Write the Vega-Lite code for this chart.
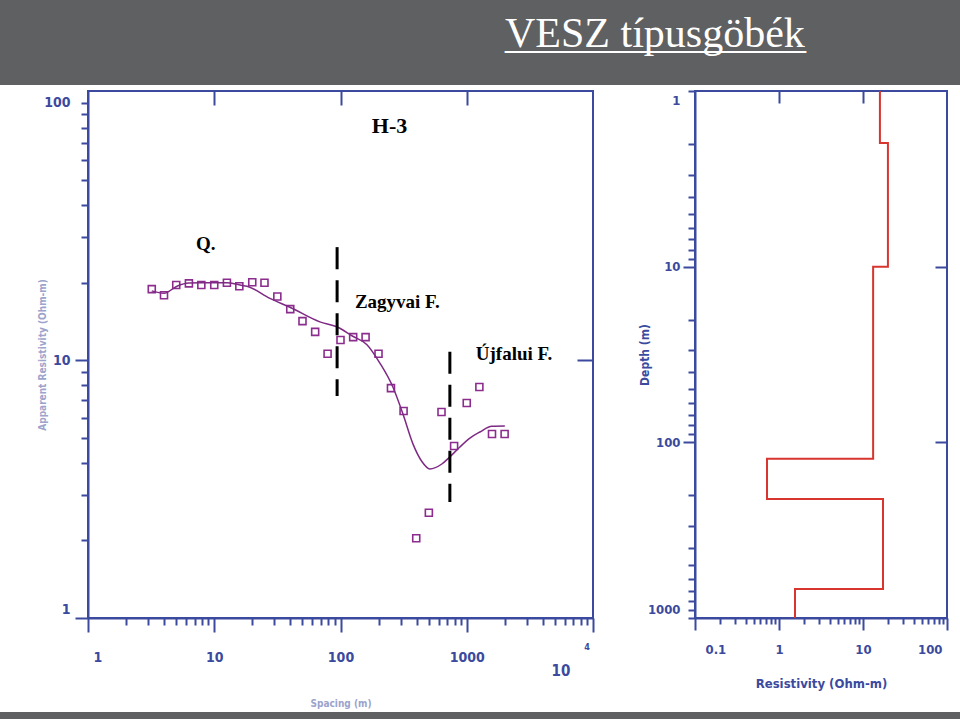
{
  "$schema": "https://vega.github.io/schema/vega-lite/v6.json",
  "padding": 0,
  "background": "#ffffff",
  "bounds": "flush",
  "align": "each",
  "columns": 4,
  "spacing": {"row": 6, "column": 0},
  "config": {"view": {"stroke": null}},
  "datasets": {
    "obs": [
      {"spacing": 3.2, "rho": 18.9}, {"spacing": 4.0, "rho": 17.9}, {"spacing": 5.0, "rho": 19.6},
      {"spacing": 6.3, "rho": 19.9}, {"spacing": 7.9, "rho": 19.6}, {"spacing": 10, "rho": 19.6},
      {"spacing": 12.6, "rho": 20.0}, {"spacing": 15.8, "rho": 19.4}, {"spacing": 20, "rho": 20.1},
      {"spacing": 25, "rho": 20.0}, {"spacing": 31.6, "rho": 17.7}, {"spacing": 40, "rho": 15.8},
      {"spacing": 50, "rho": 14.2}, {"spacing": 63, "rho": 12.9}, {"spacing": 79, "rho": 10.6},
      {"spacing": 100, "rho": 12.0}, {"spacing": 126, "rho": 12.3}, {"spacing": 158, "rho": 12.3},
      {"spacing": 200, "rho": 10.6}, {"spacing": 251, "rho": 7.8}, {"spacing": 316, "rho": 6.36},
      {"spacing": 398, "rho": 2.04}, {"spacing": 501, "rho": 2.56}, {"spacing": 631, "rho": 6.3},
      {"spacing": 794, "rho": 4.65}, {"spacing": 1000, "rho": 6.83}, {"spacing": 1259, "rho": 7.88},
      {"spacing": 1585, "rho": 5.18}, {"spacing": 1995, "rho": 5.18}
    ],
    "fit": [
      {"spacing": 3.2, "rho": 18.6}, {"spacing": 4.0, "rho": 18.2}, {"spacing": 5.07, "rho": 19.4},
      {"spacing": 6.3, "rho": 19.95}, {"spacing": 8.0, "rho": 20.0}, {"spacing": 10.1, "rho": 20.0},
      {"spacing": 12.6, "rho": 20.0}, {"spacing": 16.0, "rho": 19.6}, {"spacing": 18.2, "rho": 19.4},
      {"spacing": 27.6, "rho": 17.4}, {"spacing": 40.5, "rho": 16.0}, {"spacing": 68.7, "rho": 14.1},
      {"spacing": 93.6, "rho": 13.5}, {"spacing": 125, "rho": 12.4}, {"spacing": 162, "rho": 11.5},
      {"spacing": 205, "rho": 9.76}, {"spacing": 260, "rho": 7.88}, {"spacing": 312, "rho": 6.2},
      {"spacing": 374, "rho": 4.75}, {"spacing": 441, "rho": 4.05}, {"spacing": 510, "rho": 3.79},
      {"spacing": 635, "rho": 3.96}, {"spacing": 735, "rho": 4.22}, {"spacing": 882, "rho": 4.61},
      {"spacing": 1059, "rho": 4.99}, {"spacing": 1270, "rho": 5.27}, {"spacing": 1580, "rho": 5.55},
      {"spacing": 2003, "rho": 5.56}
    ],
    "cuts": [
      {"spacing": 94, "top": 27.5, "bottom": 7.27},
      {"spacing": 735, "top": 10.8, "bottom": 2.82}
    ],
    "names": [
      {"spacing": 7.16, "rho": 26.8, "t": "Q."},
      {"spacing": 130, "rho": 15.96, "t": "Zagyvai F."},
      {"spacing": 1180, "rho": 10.0, "t": "Újfalui F."}
    ],
    "station": [{"spacing": 177, "rho": 76.2, "t": "H-3"}],
    "pow": [{"spacing": 10000, "rho": 1, "base": "10", "exp": "4"}],
    "model": [
      {"r": 15.9, "d": 1, "i": 1}, {"r": 15.9, "d": 1.98, "i": 2}, {"r": 19.8, "d": 1.98, "i": 3},
      {"r": 19.8, "d": 10, "i": 4}, {"r": 13.2, "d": 10, "i": 5}, {"r": 13.2, "d": 124, "i": 6},
      {"r": 0.72, "d": 124, "i": 7}, {"r": 0.72, "d": 210, "i": 8}, {"r": 17.3, "d": 210, "i": 9},
      {"r": 17.3, "d": 683, "i": 10}, {"r": 1.55, "d": 683, "i": 11}, {"r": 1.55, "d": 1000, "i": 12}
    ]
  },
  "concat": [
    {"width": 88, "height": 85, "view": {"fill": "#5f6062", "stroke": null}, "data": {"values": []}, "mark": {"type": "point", "opacity": 0}},
    {"width": 505, "height": 85, "view": {"fill": "#5f6062", "stroke": null}, "data": {"values": []}, "mark": {"type": "point", "opacity": 0}},
    {"width": 102, "height": 85, "view": {"fill": "#5f6062", "stroke": null}, "data": {"values": []}, "mark": {"type": "point", "opacity": 0}},
    {
      "width": 265,
      "height": 85,
      "view": {"fill": "#5f6062", "stroke": null},
      "title": {
        "text": "VESZ típusgöbék",
        "subtitle": "______________",
        "anchor": "start",
        "frame": "group",
        "orient": "top",
        "offset": 0,
        "dx": -190,
        "dy": 58,
        "font": "Liberation Serif",
        "fontSize": 42,
        "fontWeight": "normal",
        "color": "#ffffff",
        "subtitleFont": "Liberation Serif",
        "subtitleFontSize": 43,
        "subtitleColor": "#ffffff",
        "subtitlePadding": -42
      },
      "data": {"values": []},
      "mark": {"type": "point", "opacity": 0}
    },
    {"width": 88, "height": 615, "view": {"stroke": null}, "data": {"values": []}, "mark": {"type": "point", "opacity": 0}},
    {
      "width": 505,
      "height": 527,
      "view": {"stroke": "#3b4a9e", "strokeWidth": 2},
      "resolve": {"axis": {"x": "independent", "y": "independent"}},
      "layer": [
        {
          "data": {"name": "obs"},
          "mark": {"type": "point", "shape": "square", "filled": false, "size": 49, "stroke": "#8b2c8e", "strokeWidth": 1.6, "opacity": 1},
          "encoding": {
            "x": {
              "field": "spacing", "type": "quantitative",
              "scale": {"type": "log", "domain": [1, 10000], "nice": false},
              "axis": {
                "orient": "bottom",
                "values": [1,2,3,4,5,6,7,8,9,10,20,30,40,50,60,70,80,90,100,200,300,400,500,600,700,800,900,1000,2000,3000,4000,5000,6000,7000,8000,9000,10000],
                "grid": false,
                "domainColor": "#3b4a9e", "domainWidth": 2,
                "tickColor": "#3b4a9e", "tickWidth": 2,
                "tickSize": {"condition": {"test": "indexof([1,10,100,1000,10000], datum.value) >= 0", "value": 14}, "value": 7},
                "labelExpr": "indexof([1,10,100,1000], datum.value) >= 0 ? '' + datum.value : ''",
                "labelFlush": false,
                "labelOverlap": false,
                "labelBound": false,
                "labelAlign": {"condition": {"test": "datum.value == 1", "value": "left"}, "value": "center"},
                "labelOffset": {"condition": {"test": "datum.value == 1", "value": 5}, "value": 0},
                "labelPadding": 18,
                "labelFont": "Liberation Sans Narrow, DejaVu Sans Condensed, sans-serif",
                "labelFontWeight": "bold",
                "labelFontSize": 14,
                "labelColor": "#3b4a9e",
                "title": "Spacing (m)",
                "titleFont": "Liberation Sans Narrow, DejaVu Sans Condensed, sans-serif",
                "titleFontWeight": "bold",
                "titleFontSize": 10,
                "titleColor": "#9ca3cc",
                "titlePadding": 34
              }
            },
            "y": {
              "field": "rho", "type": "quantitative",
              "scale": {"type": "log", "domain": [1, 111], "nice": false},
              "axis": {
                "orient": "left",
                "values": [1,2,3,4,5,6,7,8,9,10,20,30,40,50,60,70,80,90,100],
                "grid": false,
                "domainColor": "#3b4a9e", "domainWidth": 2,
                "tickColor": "#3b4a9e", "tickWidth": 2,
                "tickSize": {"condition": {"test": "datum.value == 10 || datum.value == 1", "value": 13}, "value": 7},
                "labelExpr": "indexof([1,10,100], datum.value) >= 0 ? '' + datum.value : ''",
                "labelFlush": false,
                "labelOverlap": false,
                "labelBound": false,
                "labelBaseline": {"condition": {"test": "datum.value == 1", "value": "bottom"}, "value": "middle"},
                "labelOffset": {"condition": {"test": "datum.value == 1", "value": -2}, "value": 0},
                "labelPadding": {"condition": {"test": "datum.value == 100", "value": 11}, "value": 5},
                "labelFont": "Liberation Sans Narrow, DejaVu Sans Condensed, sans-serif",
                "labelFontWeight": "bold",
                "labelFontSize": 14,
                "labelColor": "#3b4a9e",
                "title": "Apparent Resistivity (Ohm-m)",
                "titleFont": "Liberation Sans Narrow, DejaVu Sans Condensed, sans-serif",
                "titleFontWeight": "bold",
                "titleFontSize": 10,
                "titleColor": "#9ca3cc",
                "titlePadding": -4
              }
            }
          }
        },
        {
          "data": {"name": "fit"},
          "mark": {"type": "line", "color": "#7e2a84", "strokeWidth": 1.5, "interpolate": "monotone"},
          "encoding": {
            "x": {
              "field": "spacing", "type": "quantitative",
              "scale": {"type": "log", "domain": [1, 10000], "nice": false},
              "axis": {"orient": "top", "values": [10, 100, 1000], "labels": false, "domain": false, "grid": false, "tickSize": -14, "tickColor": "#3b4a9e", "tickWidth": 2, "title": null}
            },
            "y": {
              "field": "rho", "type": "quantitative",
              "scale": {"type": "log", "domain": [1, 111], "nice": false},
              "axis": {"orient": "right", "values": [10], "labels": false, "domain": false, "grid": false, "tickSize": -16, "tickColor": "#3b4a9e", "tickWidth": 2, "title": null}
            }
          }
        },
        {
          "data": {"name": "cuts"},
          "mark": {"type": "rule", "color": "#000000", "strokeWidth": 3, "strokeDash": [22, 11]},
          "encoding": {
            "x": {"field": "spacing", "type": "quantitative", "scale": {"type": "log", "domain": [1, 10000], "nice": false}, "axis": null},
            "y": {"field": "top", "type": "quantitative", "scale": {"type": "log", "domain": [1, 111], "nice": false}, "axis": null},
            "y2": {"field": "bottom"}
          }
        },
        {
          "data": {"name": "names"},
          "mark": {"type": "text", "align": "left", "baseline": "alphabetic", "font": "Liberation Serif", "fontWeight": "bold", "fontSize": 19, "color": "#000000"},
          "encoding": {
            "x": {"field": "spacing", "type": "quantitative", "scale": {"type": "log", "domain": [1, 10000], "nice": false}, "axis": null},
            "y": {"field": "rho", "type": "quantitative", "scale": {"type": "log", "domain": [1, 111], "nice": false}, "axis": null},
            "text": {"field": "t"}
          }
        },
        {
          "data": {"name": "station"},
          "mark": {"type": "text", "align": "left", "baseline": "alphabetic", "font": "Liberation Serif", "fontWeight": "bold", "fontSize": 22, "color": "#000000"},
          "encoding": {
            "x": {"field": "spacing", "type": "quantitative", "scale": {"type": "log", "domain": [1, 10000], "nice": false}, "axis": null},
            "y": {"field": "rho", "type": "quantitative", "scale": {"type": "log", "domain": [1, 111], "nice": false}, "axis": null},
            "text": {"field": "t"}
          }
        },
        {
          "data": {"name": "pow"},
          "mark": {"type": "text", "align": "center", "baseline": "middle", "dx": -32, "dy": 53, "font": "Liberation Sans Narrow, DejaVu Sans Condensed, sans-serif", "fontWeight": "bold", "fontSize": 15, "color": "#3b4a9e"},
          "encoding": {
            "x": {"field": "spacing", "type": "quantitative", "scale": {"type": "log", "domain": [1, 10000], "nice": false}, "axis": null},
            "y": {"field": "rho", "type": "quantitative", "scale": {"type": "log", "domain": [1, 111], "nice": false}, "axis": null},
            "text": {"field": "base"}
          }
        },
        {
          "data": {"name": "pow"},
          "mark": {"type": "text", "align": "center", "baseline": "middle", "dx": -6, "dy": 29, "font": "Liberation Sans Narrow, DejaVu Sans Condensed, sans-serif", "fontWeight": "bold", "fontSize": 9, "color": "#3b4a9e"},
          "encoding": {
            "x": {"field": "spacing", "type": "quantitative", "scale": {"type": "log", "domain": [1, 10000], "nice": false}, "axis": null},
            "y": {"field": "rho", "type": "quantitative", "scale": {"type": "log", "domain": [1, 111], "nice": false}, "axis": null},
            "text": {"field": "exp"}
          }
        }
      ]
    },
    {"width": 102, "height": 527, "view": {"stroke": null}, "data": {"values": []}, "mark": {"type": "point", "opacity": 0}},
    {
      "width": 252,
      "height": 527,
      "view": {"stroke": "#3b4a9e", "strokeWidth": 2},
      "data": {"name": "model"},
      "resolve": {"axis": {"x": "independent", "y": "independent"}},
      "layer": [
        {
          "mark": {"type": "line", "color": "#d8352f", "strokeWidth": 2},
          "encoding": {
            "x": {
              "field": "r", "type": "quantitative",
              "scale": {"type": "log", "domain": [0.1, 100], "nice": false},
              "axis": {
                "orient": "bottom",
                "values": [0.1,0.2,0.3,0.4,0.5,0.6,0.7,0.8,0.9,1,2,3,4,5,6,7,8,9,10,20,30,40,50,60,70,80,90,100],
                "grid": false,
                "domainColor": "#3b4a9e", "domainWidth": 2,
                "tickColor": "#3b4a9e", "tickWidth": 2,
                "tickSize": {"condition": {"test": "indexof([0.1,1,10,100], datum.value) >= 0", "value": 12}, "value": 6},
                "labelExpr": "indexof([0.1,1,10,100], datum.value) >= 0 ? '' + datum.value : ''",
                "labelFlush": false,
                "labelOverlap": false,
                "labelBound": false,
                "labelAlign": {"condition": [{"test": "datum.value == 0.1", "value": "left"}, {"test": "datum.value == 100", "value": "right"}], "value": "center"},
                "labelOffset": {"condition": [{"test": "datum.value == 0.1", "value": 10}, {"test": "datum.value == 100", "value": -5}], "value": 0},
                "labelPadding": 13,
                "labelFont": "Liberation Sans Narrow, DejaVu Sans Condensed, sans-serif",
                "labelFontWeight": "bold",
                "labelFontSize": 13,
                "labelColor": "#3b4a9e",
                "title": "Resistivity (Ohm-m)",
                "titleFont": "Liberation Sans Narrow, DejaVu Sans Condensed, sans-serif",
                "titleFontWeight": "bold",
                "titleFontSize": 13,
                "titleColor": "#3b4a9e",
                "titlePadding": 21
              }
            },
            "y": {
              "field": "d", "type": "quantitative",
              "scale": {"type": "log", "domain": [1, 1000], "nice": false, "reverse": true},
              "axis": {
                "orient": "left",
                "values": [1,2,3,4,5,6,7,8,9,10,20,30,40,50,60,70,80,90,100,200,300,400,500,600,700,800,900,1000],
                "grid": false,
                "domainColor": "#3b4a9e", "domainWidth": 2,
                "tickColor": "#3b4a9e", "tickWidth": 2,
                "tickSize": {"condition": {"test": "indexof([10,100], datum.value) >= 0", "value": 12}, "value": 7},
                "labelExpr": "indexof([1,10,100,1000], datum.value) >= 0 ? '' + datum.value : ''",
                "labelFlush": false,
                "labelOverlap": false,
                "labelBound": false,
                "labelBaseline": {"condition": [{"test": "datum.value == 1", "value": "top"}, {"test": "datum.value == 1000", "value": "bottom"}], "value": "middle"},
                "labelOffset": {"condition": [{"test": "datum.value == 1", "value": 3}, {"test": "datum.value == 1000", "value": -2}], "value": 0},
                "labelPadding": {"condition": {"test": "indexof([10,100], datum.value) >= 0", "value": 3}, "value": 8},
                "labelFont": "Liberation Sans Narrow, DejaVu Sans Condensed, sans-serif",
                "labelFontWeight": "bold",
                "labelFontSize": 13,
                "labelColor": "#3b4a9e",
                "title": "Depth (m)",
                "titleFont": "Liberation Sans Narrow, DejaVu Sans Condensed, sans-serif",
                "titleFontWeight": "bold",
                "titleFontSize": 12,
                "titleColor": "#3b4a9e",
                "titlePadding": -4
              }
            },
            "order": {"field": "i", "type": "quantitative"}
          }
        },
        {
          "mark": {"type": "point", "opacity": 0},
          "encoding": {
            "x": {
              "field": "r", "type": "quantitative",
              "scale": {"type": "log", "domain": [0.1, 100], "nice": false},
              "axis": {"orient": "top", "values": [1, 10], "labels": false, "domain": false, "grid": false, "tickSize": -12, "tickColor": "#3b4a9e", "tickWidth": 2, "title": null}
            },
            "y": {
              "field": "d", "type": "quantitative",
              "scale": {"type": "log", "domain": [1, 1000], "nice": false, "reverse": true},
              "axis": {"orient": "right", "values": [10, 100], "labels": false, "domain": false, "grid": false, "tickSize": -12, "tickColor": "#3b4a9e", "tickWidth": 2, "title": null}
            }
          }
        }
      ]
    },
    {"width": 88, "height": 7, "view": {"fill": "#5f6062", "stroke": null}, "data": {"values": []}, "mark": {"type": "point", "opacity": 0}},
    {"width": 505, "height": 7, "view": {"fill": "#5f6062", "stroke": null}, "data": {"values": []}, "mark": {"type": "point", "opacity": 0}},
    {"width": 102, "height": 7, "view": {"fill": "#5f6062", "stroke": null}, "data": {"values": []}, "mark": {"type": "point", "opacity": 0}},
    {"width": 265, "height": 7, "view": {"fill": "#5f6062", "stroke": null}, "data": {"values": []}, "mark": {"type": "point", "opacity": 0}}
  ]
}
